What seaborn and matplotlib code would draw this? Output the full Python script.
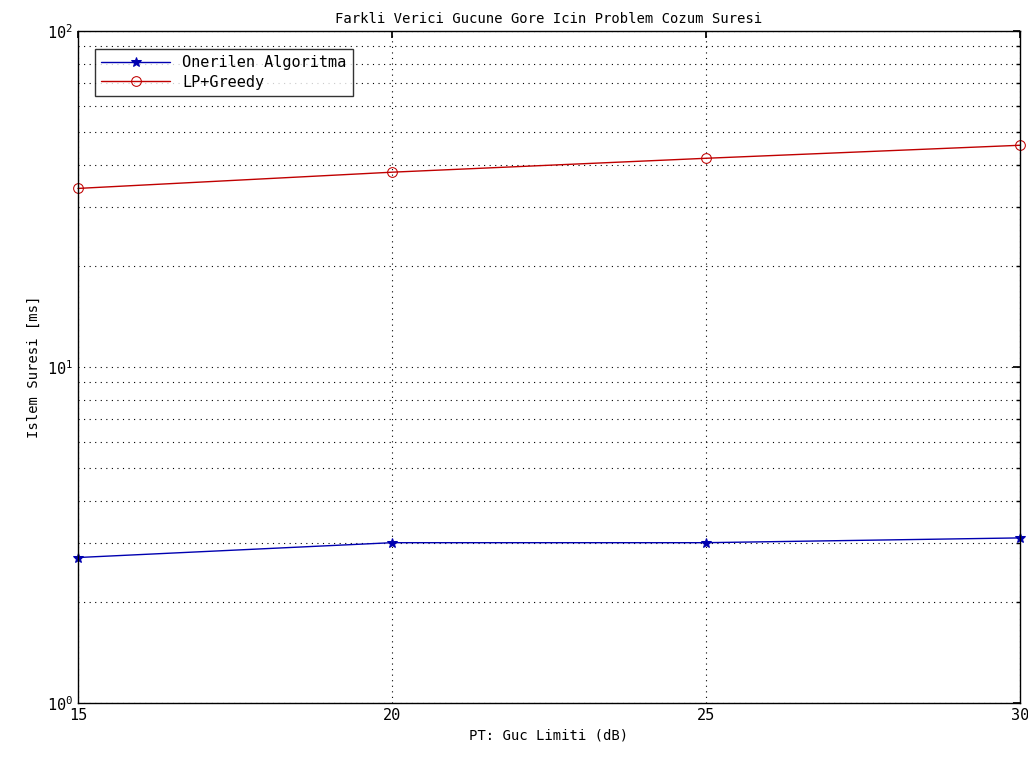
import matplotlib
matplotlib.use("Agg")
import matplotlib.pyplot as plt
import seaborn as sns
import pandas as pd
from matplotlib.ticker import LogLocator, NullFormatter, FixedLocator

x_vals = [15, 20, 25, 30]
onerilen = [2.71, 3.0, 3.0, 3.10]
lp_greedy = [34.0, 38.0, 41.8, 45.7]
series_names = ["Onerilen Algoritma", "LP+Greedy"]

df = pd.DataFrame({
    "x": x_vals * 2,
    "y": onerilen + lp_greedy,
    "series": [series_names[0]] * 4 + [series_names[1]] * 4,
})

sns.set_theme(style="white")
plt.rcParams['font.family'] = ['DejaVu Sans Mono', 'DejaVu Sans']
plt.rcParams['mathtext.fontset'] = 'dejavusans'
plt.rcParams['text.color'] = 'black'
plt.rcParams['axes.labelcolor'] = 'black'
plt.rcParams['xtick.color'] = 'black'
plt.rcParams['ytick.color'] = 'black'

fig = plt.figure(figsize=(10.28, 7.58), dpi=100)
ax = fig.add_axes([78/1028, 55/758, (1020-78)/1028, (703-31)/758])

sns.lineplot(data=df, x="x", y="y", hue="series", style="series",
             palette={series_names[0]: "#0000b0", series_names[1]: "#c00000"},
             markers={series_names[0]: "*", series_names[1]: "o"},
             dashes=False, linewidth=1.0, markersize=7,
             markerfacecolor="none", ax=ax)

for line in ax.get_lines():
    if line.get_marker() == "*":
        line.set_markerfacecolor(line.get_color())
    line.set_markeredgecolor(line.get_color())
    line.set_clip_on(False)

ax.set_yscale("log")
ax.set_xlim(15, 30)
ax.set_ylim(1, 100)
ax.xaxis.set_major_locator(FixedLocator([15, 20, 25, 30]))
ax.yaxis.set_major_locator(LogLocator(base=10, numticks=5))
ax.yaxis.set_minor_locator(LogLocator(base=10, subs=range(2, 10), numticks=20))
ax.yaxis.set_minor_formatter(NullFormatter())

ax.grid(True, which="major", axis="x", color="black", linestyle=(0, (1, 4)), linewidth=0.8)
ax.grid(True, which="both", axis="y", color="black", linestyle=(0, (1, 4)), linewidth=0.8)

ax.tick_params(axis="both", which="both", direction="in", top=True, right=True,
               labelsize=11, colors="black", length=5)
ax.tick_params(axis="y", which="minor", length=3)
for s in ax.spines.values():
    s.set_color("black")
    s.set_linewidth(1.0)

ax.set_title("Farkli Verici Gucune Gore Icin Problem Cozum Suresi", fontsize=10, pad=6, color="black")
ax.set_xlabel("PT: Guc Limiti (dB)", fontsize=10, color="black")
ax.set_ylabel("Islem Suresi [ms]", fontsize=10, color="black")

leg = ax.legend(loc="upper left", bbox_to_anchor=(0.015, 0.978), fontsize=11,
                frameon=True, fancybox=False, edgecolor="black", handlelength=4.5,
                borderaxespad=0.2, labelspacing=0.3)
leg.get_frame().set_linewidth(1.0)
for t in leg.get_texts():
    t.set_color("black")

fig.savefig("out.png", dpi=100, facecolor="white")
